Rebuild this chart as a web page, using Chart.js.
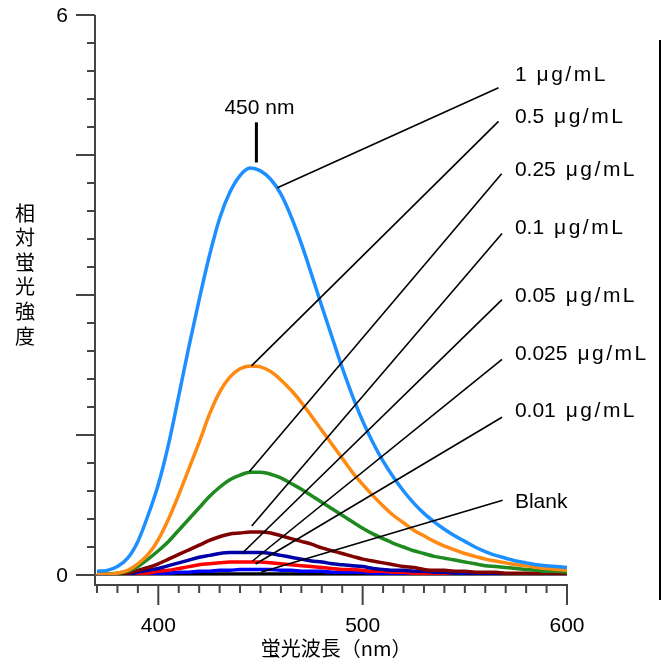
<!DOCTYPE html>
<html>
<head>
<meta charset="utf-8">
<script src="https://cdn.jsdelivr.net/npm/chart.js@4.4.0/dist/chart.umd.min.js"></script>
<style>
  html, body { margin: 0; padding: 0; background: #fff; }
</style>
</head>
<body>
<canvas id="chart" width="667" height="661"></canvas>
<script>
// emission wavelength (nm)
const wavelengths = [370, 375, 380, 385, 390, 395, 400, 405, 410, 415, 420, 425, 430, 435, 440, 445,
  450, 455, 460, 465, 470, 475, 480, 485, 490, 495, 500, 505, 510, 515, 520, 525, 530, 535, 540,
  545, 550, 555, 560, 565, 570, 575, 580, 585, 590, 595, 600];

// relative fluorescence intensity
const conc1 = [0.04, 0.05, 0.09, 0.18, 0.36, 0.64, 0.97, 1.40, 1.92, 2.45, 2.95, 3.42, 3.82, 4.10, 4.28, 4.36,
  4.33, 4.24, 4.08, 3.84, 3.55, 3.22, 2.88, 2.55, 2.22, 1.92, 1.65, 1.42, 1.22, 1.05, 0.90, 0.77, 0.66, 0.57, 0.49,
  0.42, 0.36, 0.30, 0.25, 0.21, 0.18, 0.15, 0.13, 0.11, 0.10, 0.09, 0.08];
const conc05 = [0.01, 0.01, 0.02, 0.05, 0.12, 0.22, 0.38, 0.60, 0.86, 1.14, 1.42, 1.72, 1.96, 2.12, 2.21, 2.24,
  2.23, 2.18, 2.09, 1.98, 1.85, 1.70, 1.55, 1.40, 1.25, 1.10, 0.97, 0.85, 0.74, 0.64, 0.56, 0.48, 0.42, 0.36, 0.31,
  0.27, 0.23, 0.20, 0.17, 0.15, 0.13, 0.11, 0.10, 0.08, 0.07, 0.06, 0.05];
const conc025 = [0.00, 0.01, 0.02, 0.04, 0.09, 0.17, 0.26, 0.36, 0.48, 0.60, 0.72, 0.84, 0.94, 1.02, 1.07, 1.10,
  1.10, 1.08, 1.04, 0.98, 0.92, 0.85, 0.78, 0.71, 0.64, 0.57, 0.50, 0.44, 0.39, 0.34, 0.30, 0.26, 0.23, 0.20, 0.18,
  0.16, 0.14, 0.12, 0.10, 0.09, 0.08, 0.07, 0.06, 0.05, 0.04, 0.04, 0.03];
const conc01 = [0.00, 0.00, 0.01, 0.02, 0.05, 0.08, 0.12, 0.17, 0.22, 0.27, 0.32, 0.37, 0.41, 0.44, 0.45, 0.46,
  0.46, 0.45, 0.42, 0.39, 0.36, 0.33, 0.29, 0.26, 0.23, 0.20, 0.17, 0.15, 0.13, 0.11, 0.09, 0.08, 0.06, 0.05, 0.05,
  0.04, 0.04, 0.03, 0.03, 0.03, 0.02, 0.02, 0.02, 0.02, 0.01, 0.01, 0.01];
const conc005 = [0.00, 0.00, 0.01, 0.01, 0.03, 0.05, 0.07, 0.10, 0.13, 0.16, 0.19, 0.21, 0.23, 0.24, 0.24, 0.24,
  0.24, 0.23, 0.21, 0.19, 0.17, 0.15, 0.14, 0.12, 0.11, 0.10, 0.09, 0.07, 0.06, 0.05, 0.05, 0.04, 0.04, 0.03, 0.03,
  0.02, 0.02, 0.02, 0.02, 0.01, 0.01, 0.01, 0.01, 0.01, 0.01, 0.01, 0.01];
const conc0025 = [0.00, 0.00, 0.00, 0.01, 0.01, 0.02, 0.04, 0.05, 0.07, 0.09, 0.11, 0.12, 0.13, 0.14, 0.14, 0.14,
  0.14, 0.13, 0.12, 0.11, 0.10, 0.09, 0.08, 0.07, 0.06, 0.06, 0.05, 0.04, 0.04, 0.03, 0.03, 0.02, 0.02, 0.02, 0.02,
  0.01, 0.01, 0.01, 0.01, 0.01, 0.01, 0.01, 0.01, 0.01, 0.01, 0.01, 0.01];
const conc001 = [0.00, 0.00, 0.00, 0.00, 0.01, 0.01, 0.02, 0.02, 0.03, 0.03, 0.04, 0.04, 0.05, 0.05, 0.06, 0.06,
  0.06, 0.06, 0.05, 0.05, 0.04, 0.04, 0.04, 0.03, 0.03, 0.03, 0.03, 0.02, 0.02, 0.02, 0.02, 0.01, 0.01, 0.01, 0.01,
  0.01, 0.01, 0.01, 0.01, 0.01, 0.01, 0.01, 0.01, 0.01, 0.01, 0.01, 0.01];
const blank = [0.01, 0.01, 0.01, 0.01, 0.01, 0.01, 0.01, 0.01, 0.01, 0.01, 0.01, 0.01, 0.01, 0.01, 0.01, 0.01,
  0.01, 0.01, 0.01, 0.01, 0.01, 0.01, 0.01, 0.01, 0.01, 0.01, 0.01, 0.01, 0.01, 0.01, 0.01, 0.01, 0.01, 0.01, 0.01,
  0.01, 0.01, 0.01, 0.01, 0.01, 0.01, 0.01, 0.01, 0.01, 0.01, 0.01, 0.01];

const seriesNames = ['1', '0.5', '0.25', '0.1', '0.05', '0.025', '0.01', 'Blank'];
const seriesValues = [conc1, conc05, conc025, conc01, conc005, conc0025, conc001, blank];
const seriesColors = ['#1e8fff', '#ff8a12', '#1f8a1f', '#800000', '#0000a8', '#ff0000', '#0000ff', '#000000'];
const unitText = 'μg/mL';

const xTickLabels = [400, 500, 600];
const yTickLabels = [0, 6];

// label placement (nm, intensity) and leader lines from label to curve
const labelX = 574.5;
const labelY = [5.36, 4.91, 4.34, 3.72, 2.99, 2.37, 1.76, 0.78];
const leaderFrom = [[566.5, 5.22], [566.5, 4.86], [568.0, 4.30], [568.2, 3.66], [568.2, 2.95], [568.2, 2.31], [568.2, 1.69], [568.5, 0.80]];
const leaderTo = [[458.3, 4.15], [445.6, 2.24], [444.6, 1.11], [445.7, 0.525], [441.2, 0.236], [446.1, 0.15], [447.6, 0.118], [450.5, 0.032]];
const peakText = '450 nm';
const peakAt = 448;
const peakMark = [4.42, 4.85];
const peakTextY = 5.0;

const numFont = '21px "Liberation Sans", Arial, sans-serif';
const jpFont = '20px "Noto Sans CJK JP", sans-serif';

const decorations = {
  id: 'decorations',
  beforeDatasetsDraw(chart) {
    const { ctx, scales: { x, y } } = chart;
    const axisX = x.getPixelForValue(370) - 2;
    const zeroY = y.getPixelForValue(0);
    const axisY = zeroY + 10;
    ctx.save();
    ctx.strokeStyle = '#444';
    ctx.lineWidth = 2;
    // y axis
    ctx.beginPath();
    ctx.moveTo(axisX, y.getPixelForValue(6));
    ctx.lineTo(axisX, axisY);
    ctx.stroke();
    for (let i = 0; i <= 20; i++) {
      const py = y.getPixelForValue(i * 0.3);
      const len = i % 5 === 0 ? 19 : 8;
      ctx.beginPath();
      ctx.moveTo(axisX - len, py);
      ctx.lineTo(axisX, py);
      ctx.stroke();
    }
    // zero line
    ctx.strokeStyle = '#666';
    ctx.beginPath();
    ctx.moveTo(axisX, zeroY);
    ctx.lineTo(x.getPixelForValue(600), zeroY);
    ctx.stroke();
    // x axis
    ctx.strokeStyle = '#444';
    ctx.beginPath();
    ctx.moveTo(axisX - 1, axisY);
    ctx.lineTo(x.getPixelForValue(600) + 1, axisY);
    ctx.stroke();
    for (let nm = 370; nm <= 600; nm += 10) {
      const px = x.getPixelForValue(nm);
      const len = nm % 100 === 0 ? 20 : 8;
      ctx.beginPath();
      ctx.moveTo(px, axisY);
      ctx.lineTo(px, axisY + len);
      ctx.stroke();
    }
    // tick labels
    ctx.fillStyle = '#000';
    ctx.font = numFont;
    ctx.textAlign = 'center';
    ctx.textBaseline = 'middle';
    xTickLabels.forEach(v => ctx.fillText(String(v), x.getPixelForValue(v), axisY + 41));
    ctx.textAlign = 'right';
    yTickLabels.forEach(v => ctx.fillText(String(v), axisX - 27, y.getPixelForValue(v) + 1));
    // axis titles
    ctx.font = jpFont;
    ctx.textAlign = 'center';
    ctx.fillText('蛍光波長（nm）', x.getPixelForValue(487), axisY + 63);
    const yTitle = '相対蛍光強度';
    for (let i = 0; i < yTitle.length; i++) {
      ctx.fillText(yTitle[i], 25, 213 + i * 24.6);
    }
    // frame edge at right
    ctx.strokeStyle = '#000';
    ctx.lineWidth = 2;
    ctx.beginPath();
    ctx.moveTo(660, 40);
    ctx.lineTo(660, 600);
    ctx.stroke();
    ctx.restore();
  },
  afterDatasetsDraw(chart) {
    const { ctx, scales: { x, y } } = chart;
    ctx.save();
    ctx.strokeStyle = '#000';
    ctx.lineWidth = 1.6;
    leaderFrom.forEach((from, i) => {
      ctx.beginPath();
      ctx.moveTo(x.getPixelForValue(from[0]), y.getPixelForValue(from[1]));
      ctx.lineTo(x.getPixelForValue(leaderTo[i][0]), y.getPixelForValue(leaderTo[i][1]));
      ctx.stroke();
    });
    ctx.fillStyle = '#000';
    ctx.font = numFont;
    ctx.textBaseline = 'middle';
    ctx.textAlign = 'left';
    seriesNames.forEach((name, i) => {
      const lx = x.getPixelForValue(labelX);
      const ly = y.getPixelForValue(labelY[i]);
      ctx.letterSpacing = '0px';
      ctx.fillText(name, lx, ly);
      if (name !== 'Blank') {
        const w = ctx.measureText(name).width;
        ctx.letterSpacing = '2.5px';
        ctx.fillText(unitText, lx + w + 10, ly);
      }
    });
    ctx.letterSpacing = '0px';
    // peak marker
    ctx.lineWidth = 3;
    ctx.beginPath();
    ctx.moveTo(x.getPixelForValue(peakAt), y.getPixelForValue(peakMark[0]));
    ctx.lineTo(x.getPixelForValue(peakAt), y.getPixelForValue(peakMark[1]));
    ctx.stroke();
    ctx.textAlign = 'center';
    ctx.fillText(peakText, x.getPixelForValue(peakAt + 1.5), y.getPixelForValue(peakTextY));
    ctx.restore();
  }
};

new Chart(document.getElementById('chart'), {
  type: 'line',
  data: {
    datasets: seriesValues.map((vals, i) => ({
      label: seriesNames[i],
      data: wavelengths.map((w, j) => ({ x: w, y: vals[j] })),
      borderColor: seriesColors[i],
      borderWidth: 3.5,
      pointRadius: 0,
      cubicInterpolationMode: 'monotone',
      fill: false
    }))
  },
  options: {
    responsive: false,
    animation: false,
    layout: { padding: { left: 97, right: 100, top: 15, bottom: 86 } },
    plugins: { legend: { display: false }, tooltip: { enabled: false } },
    scales: {
      x: { type: 'linear', min: 370, max: 600, display: false },
      y: { min: 0, max: 6, display: false }
    }
  },
  plugins: [decorations]
});
</script>
</body>
</html>
